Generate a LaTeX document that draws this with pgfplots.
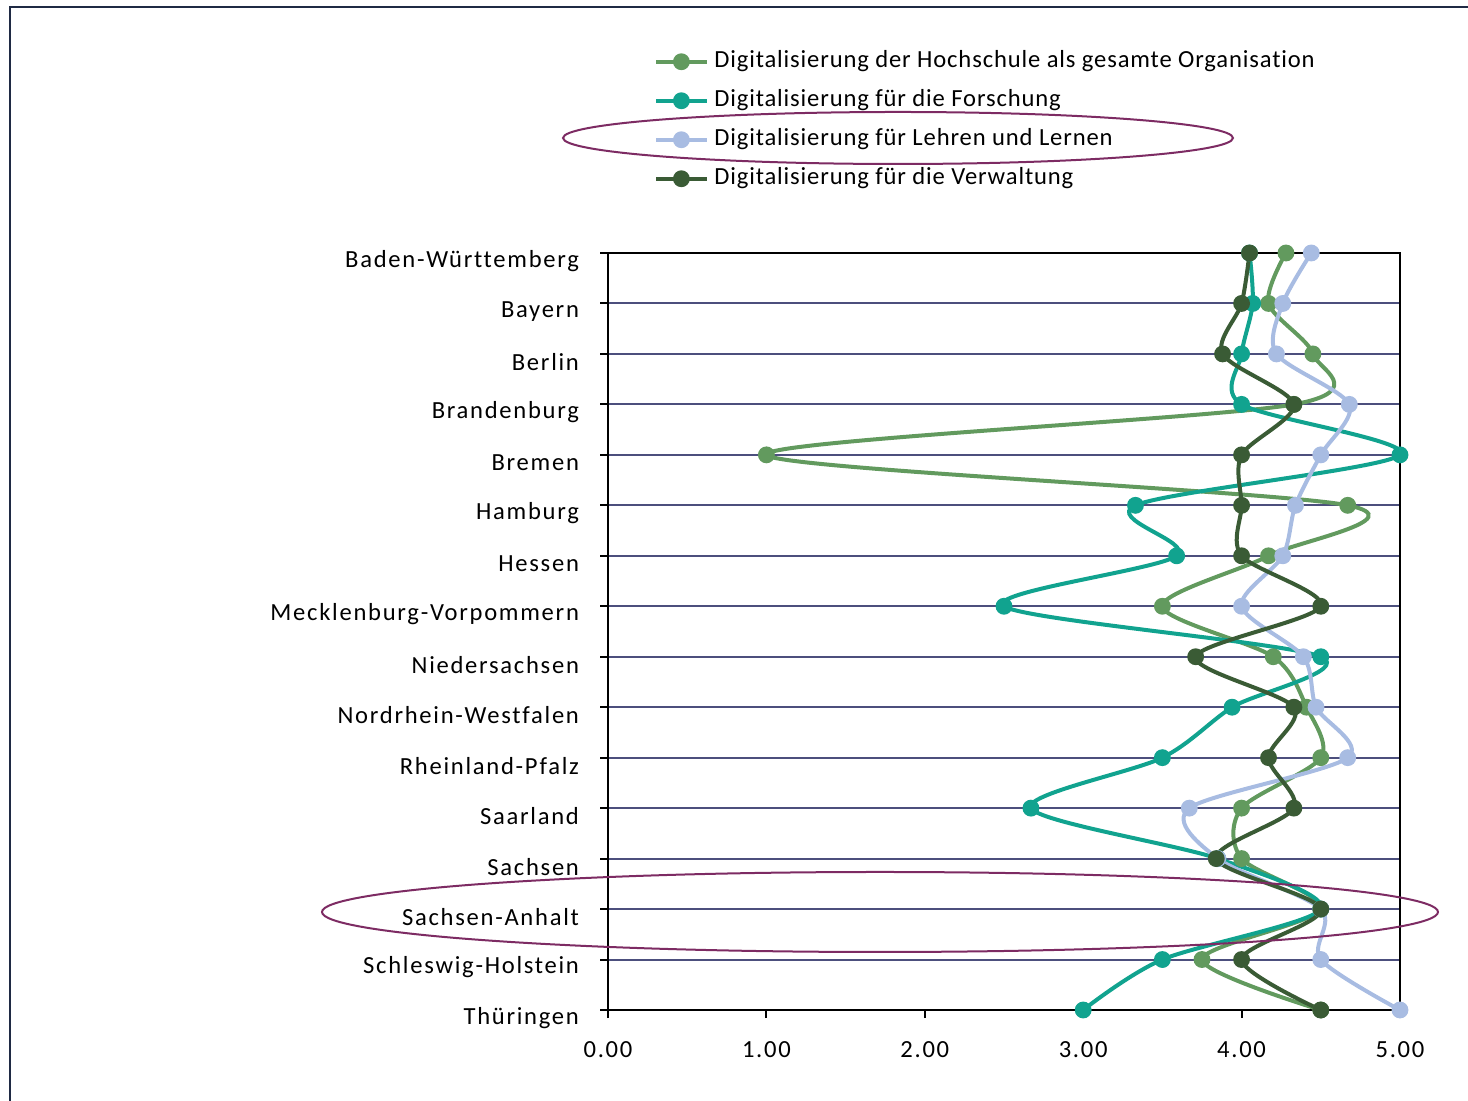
\documentclass[border=0pt]{standalone}
\usepackage{pgfplots}
\pgfplotsset{compat=1.18}
\usepackage{fontspec}
\setmainfont{Carlito}[LetterSpace=7, Ligatures=NoCommon]
\newfontfamily\legfont{Carlito}[LetterSpace=3.5, Ligatures=NoCommon]
\definecolor{cOrg}{HTML}{629A5E}
\definecolor{cFor}{HTML}{11A38F}
\definecolor{cLeh}{HTML}{A8BCE2}
\definecolor{cVer}{HTML}{3A5B35}
\definecolor{cGrid}{HTML}{4C4F7D}
\definecolor{cEll}{HTML}{7D2B63}
\definecolor{cFrame}{HTML}{1F2A44}
\begin{document}
\begin{tikzpicture}
\useasboundingbox (0pt,0pt) rectangle (734pt,550.5pt);
\draw[cFrame, line width=1pt] (5pt,0pt) -- (5pt,547pt) -- (734pt,547pt);
\begin{axis}[
  at={(304pt,45.5pt)}, anchor=south west,
  scale only axis, width=396pt, height=378.5pt,
  xmin=0, xmax=5, ymin=0, ymax=15, y dir=reverse,
  clip=false,
  xtick={0,1,2,3,4,5},
  ytick={0,...,15},
  yticklabels={Baden-Württemberg,Bayern,Berlin,Brandenburg,Bremen,Hamburg,Hessen,Mecklenburg-Vorpommern,Niedersachsen,Nordrhein-Westfalen,Rheinland-Pfalz,Saarland,Sachsen,Sachsen-Anhalt,Schleswig-Holstein,Thüringen},
  tick align=outside, xtick pos=bottom, ytick pos=left,
  major tick length=4pt,
  tick style={black, line width=1pt},
  axis line style={black, line width=1pt},
  ymajorgrids, major grid style={cGrid, line width=1pt},
  /pgf/number format/assume math mode=true,
  /pgf/number format/fixed, /pgf/number format/fixed zerofill, /pgf/number format/precision=2,
  ticklabel style={font=\fontsize{12.3}{14}\selectfont},
  yticklabel style={xshift=-7pt, yshift=-4pt},
  xticklabel style={yshift=-8pt},
  legend style={at={(0.0606,1.273)}, anchor=north west, draw=none, fill=none,
    font=\legfont\fontsize{12.3}{14}\selectfont,
    nodes={inner sep=0pt, text height=8.5pt, text depth=2.5pt, anchor=west},
    row sep=8.5pt, column sep=3pt, xshift=-4pt},
  legend cell align=left,
  legend image code/.code={\draw[mark repeat=2,mark phase=2] plot coordinates {(0pt,0pt)(12.5pt,0pt)(25pt,0pt)};},
  every axis plot/.append style={line width=2pt, smooth, mark=*, mark size=3.2pt, mark options={solid}},
]
\addplot[cOrg, mark options={fill=cOrg, draw=cOrg}] coordinates {
(4.28,0) (4.17,1) (4.45,2) (4.33,3) (1.00,4) (4.67,5) (4.17,6) (3.50,7)
(4.20,8) (4.41,9) (4.50,10) (4.00,11) (4.00,12) (4.50,13) (3.75,14) (4.50,15)};
\addlegendentry{Digitalisierung der Hochschule als gesamte Organisation}
\addplot[cFor, mark options={fill=cFor, draw=cFor}] coordinates {
(4.05,0) (4.07,1) (4.00,2) (4.00,3) (5.00,4) (3.33,5) (3.59,6) (2.50,7)
(4.50,8) (3.94,9) (3.50,10) (2.67,11) (3.85,12) (4.50,13) (3.50,14) (3.00,15)};
\addlegendentry{Digitalisierung für die Forschung}
\addplot[cLeh, mark options={fill=cLeh, draw=cLeh}] coordinates {
(4.44,0) (4.26,1) (4.22,2) (4.68,3) (4.50,4) (4.34,5) (4.26,6) (4.00,7)
(4.39,8) (4.47,9) (4.67,10) (3.67,11) (3.85,12) (4.50,13) (4.50,14) (5.00,15)};
\addlegendentry{Digitalisierung für Lehren und Lernen}
\addplot[cVer, mark options={fill=cVer, draw=cVer}] coordinates {
(4.05,0) (4.00,1) (3.88,2) (4.33,3) (4.00,4) (4.00,5) (4.00,6) (4.50,7)
(3.71,8) (4.33,9) (4.17,10) (4.33,11) (3.84,12) (4.50,13) (4.00,14) (4.50,15)};
\addlegendentry{Digitalisierung für die Verwaltung}
\end{axis}
\draw[cEll, line width=1pt] (449pt,481.5pt) ellipse [x radius=167.5pt, y radius=13pt];
\draw[cEll, line width=1pt] (440pt,94.5pt) ellipse [x radius=279pt, y radius=20pt];
\end{tikzpicture}
\end{document}
